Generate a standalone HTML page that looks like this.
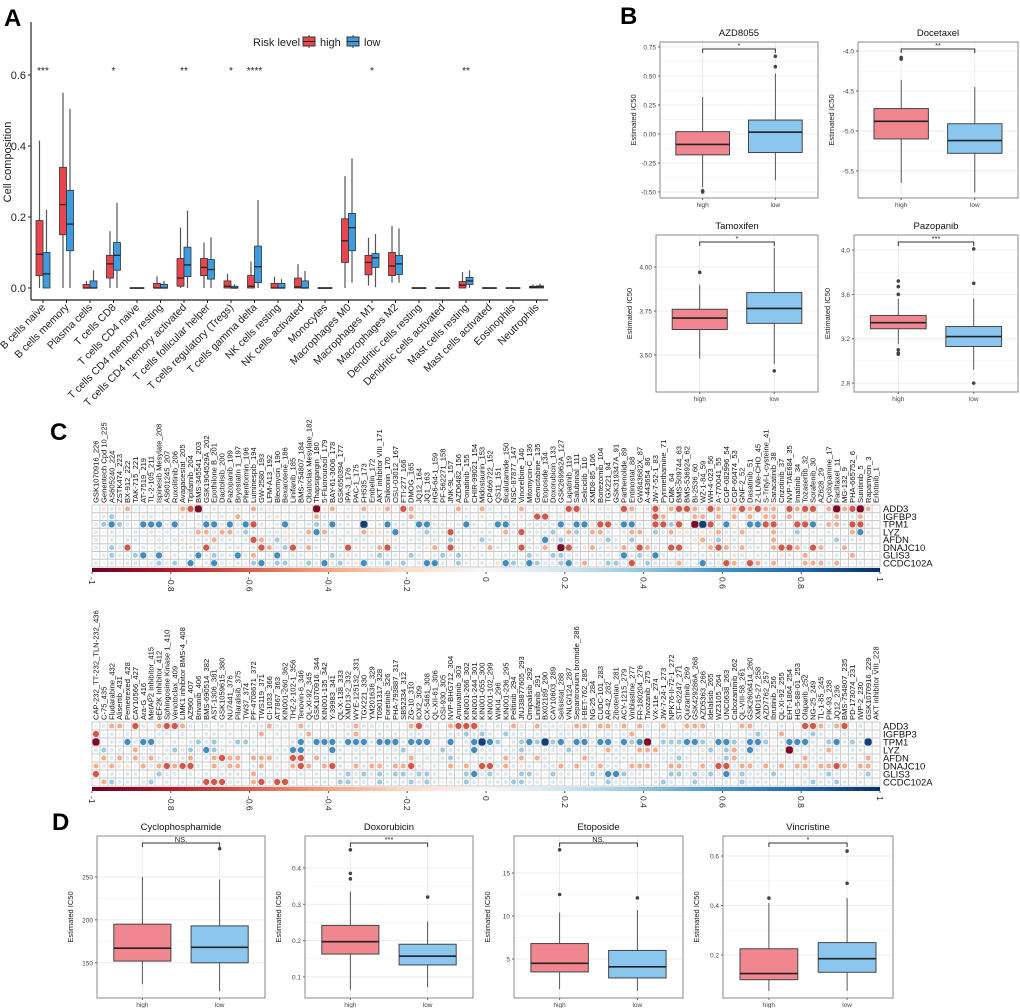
<!DOCTYPE html>
<html><head><meta charset="utf-8">
<style>
html,body{margin:0;padding:0;background:#fff;}
svg{display:block;font-family:"Liberation Sans",Arial,sans-serif;}
</style></head>
<body>
<svg id="fig" width="1020" height="1008" viewBox="0 0 1020 1008" xmlns="http://www.w3.org/2000/svg">
<defs>
<linearGradient id="cbar" x1="0" x2="1" y1="0" y2="0">
<stop offset="0" stop-color="#67001F"/><stop offset="0.1" stop-color="#B2182B"/><stop offset="0.2" stop-color="#D6604D"/><stop offset="0.3" stop-color="#F4A582"/><stop offset="0.4" stop-color="#FDDBC7"/><stop offset="0.5" stop-color="#F7F7F7"/><stop offset="0.6" stop-color="#D1E5F0"/><stop offset="0.7" stop-color="#92C5DE"/><stop offset="0.8" stop-color="#4393C3"/><stop offset="0.9" stop-color="#2166AC"/><stop offset="1" stop-color="#053061"/>
</linearGradient>
</defs>
<g id="gA"></g>
<g id="gB"></g>
<g id="gC"></g>
<g id="gD"></g>
</svg>
<script>
// ===== Panel A data =====
const cellTypes = ["B cells naive","B cells memory","Plasma cells","T cells CD8","T cells CD4 naive","T cells CD4 memory resting","T cells CD4 memory activated","T cells follicular helper","T cells regulatory (Tregs)","T cells gamma delta","NK cells resting","NK cells activated","Monocytes","Macrophages M0","Macrophages M1","Macrophages M2","Dendritic cells resting","Dendritic cells activated","Mast cells resting","Mast cells activated","Eosinophils","Neutrophils"];
// [min, q1, median, q3, max]
const highStats = [[0,.035,.095,.19,.415],[0,.15,.235,.34,.55],[0,0,0,.01,.02],[0,.028,.068,.092,.16],[0,0,0,.001,.001],[0,0,0,.013,.033],[0,.005,.028,.083,.17],[0,.035,.058,.083,.128],[0,0,.005,.02,.04],[0,0,.005,.035,.075],[0,0,0,.013,.032],[0,0,.003,.028,.067],[0,0,0,.001,.001],[0,.072,.133,.195,.315],[.007,.037,.072,.092,.142],[.015,.035,.062,.1,.175],[0,0,0,.001,.001],[0,0,0,.001,.001],[0,0,.008,.018,.045],[0,0,0,.001,.001],[0,0,0,.001,.001],[0,0,.002,.005,.01]];
const lowStats = [[0,0,.04,.1,.22],[0,.105,.18,.275,.505],[0,0,0,.02,.05],[0,.05,.092,.128,.24],[0,0,0,.001,.001],[0,0,0,.01,.02],[0,.032,.065,.115,.218],[0,.025,.052,.08,.143],[0,0,0,.005,.01],[0,.015,.06,.118,.248],[0,0,0,.013,.025],[0,0,0,.02,.048],[0,0,0,.001,.001],[.015,.105,.17,.21,.365],[.002,.058,.085,.097,.152],[.015,.038,.068,.092,.168],[0,0,0,.001,.001],[0,0,0,.001,.001],[0,.01,.02,.03,.05],[0,0,0,.001,.001],[0,0,0,.001,.001],[0,0,.003,.006,.012]];
const sigLabels = ["***","","","*","","","**","","*","****","","","","","*","","","","**","","",""];
const aTicks = [0,0.2,0.4,0.6];

// ===== Panel B/D data =====
const drugTitles = ["AZD8055","Docetaxel","Tamoxifen","Pazopanib","Cyclophosphamide","Doxorubicin","Etoposide","Vincristine"];
const drugHigh = [[-0.46,-0.18,-0.09,0.02,0.32],[-5.65,-5.1,-4.88,-4.72,-4.36],[3.48,3.645,3.71,3.76,3.9],[3.15,3.29,3.345,3.41,3.56],[125,152,167,195,250],[0.065,0.163,0.197,0.242,0.335],[1.5,3.5,4.5,6.8,10.4],[0.055,0.1,0.125,0.225,0.41]];
const drugLow = [[-0.4,-0.16,0.015,0.12,0.52],[-5.77,-5.28,-5.12,-4.91,-4.45],[3.45,3.68,3.765,3.855,4.11],[2.92,3.13,3.22,3.31,3.56],[117,150,168,193,247],[0.072,0.133,0.157,0.19,0.253],[1.3,2.8,4.1,6.0,10.7],[0.055,0.13,0.185,0.25,0.43]];
const drugOutHigh = [[-0.49,-0.5],[-4.08,-4.1],[3.97],[3.72,3.67,3.6,3.1,3.07,3.06],[],[0.37,0.385,0.45],[12.5,17.7],[0.43]];
const drugOutLow = [[0.58,0.67],[],[3.41],[3.7,4.01,2.8],[283],[0.32],[12.1],[0.49,0.62]];
const drugSig = ["*","**","*","***","NS.","***","NS.","*"];
const drugTicks = [[-0.5,-0.25,0,0.25,0.5,0.75],[-5.5,-5,-4.5,-4],[3.5,3.75,4],[2.8,3.2,3.6,4],[150,200,250],[0.1,0.2,0.3,0.4],[5,10,15],[0.2,0.4,0.6]];
const drugTickLabels = [["-0.50","-0.25","0.00","0.25","0.50","0.75"],["-5.5","-5.0","-4.5","-4.0"],["3.50","3.75","4.00"],["2.8","3.2","3.6","4.0"],["150","200","250"],["0.1","0.2","0.3","0.4"],["5","10","15"],["0.2","0.4","0.6"]];
const drugDomain = [[-0.552,0.793],[-5.84,-3.886],[3.29,4.182],[2.72,4.135],[109,297.7],[0.042,0.488],[0.47,19.3],[0.026,0.681]];

// ===== Panel C data =====
const genes = ["ADD3","IGFBP3","TPM1","LYZ","AFDN","DNAJC10","GLIS3","CCDC102A"];
const drugs1 = ["GSK1070916_226","Genentech Cpd 10_225","AS605240_224","ZSTK474_223","BX-912_222","TAK-715_221","AT-7519_219","TL-2-105_211","Ispinesib Mesylate_208","AS601245_207","Ruxolitinib_206","Avagacestat_205","Tipifarnib_204","BMS-345541_203","GSK1904529A_202","Epothilone B_201","Dactolisib_200","Pazopanib_199","Bryostatin 1_197","Phenformin_196","Luminespib_194","GW-2580_193","LFM-A13_192","Bleomycin_190","Bexarotene_186","Linifanib_185","BMS-754807_184","Obatoclax Mesylate_182","Thapsigargin_180","5-Fluorouracil_179","BAY-61-3606_178","GSK650394_177","IPA-3_176","PAC-1_175","FH535_173","Embelin_172","AKT inhibitor VIII_171","Shikonin_170","OSU-03012_167","FTI-277_166","DMOG_165","JQ12_164","JQ1_163","HG6-64-1_159","PF-562271_158","JNK-9L_157","AZD6482_156","Ponatinib_155","CHIR-99021_154","Midostaurin_153","CP466722_152","QS11_151","Bicalutamide_150","NSC-87877_147","Vinorelbine_140","Mitomycin-C_136","Gemcitabine_135","Etoposide_134","Doxorubicin_133","GSK269962A_127","Lapatinib_119","Salubrinal_111","Seliciclib_110","XMD8-85_106","Bortezomib_104","TGX221_94","GSK319347A_91","Parthenolide_89","Entinostat_88","GW843682X_87","A-443654_86","JW-7-52-1_83","Pyrimethamine_71","CMK_64","BMS-509744_63","BMS-536924_62","BI-2536_60","WZ-1-84_59","WH-4-023_56","A-770041_55","CGP-082996_54","CGP-60474_53","GNF-2_52","Dasatinib_51","Z-LLNle-CHO_45","S-Trityl-L-cysteine_41","Saracatinib_38","Crizotinib_37","NVP-TAE684_35","Imatinib_34","Tozasertib_32","Sorafenib_30","AZ628_29","Cyclopamine_17","Paclitaxel_11","MG-132_9","PHA-665752_6","Sunitinib_5","Rapamycin_3","Erlotinib_1"];
const drugs2 = ["CAP-232_TT-232_TLN-232_436","C-75_435","Fludarabine_432","Alisertib_431","Pemetrexed_428","CAY10566_427","Ara-G_416","MetAP2 Inhibitor_415","eEF2K Inhibitor_412","Sphingosine Kinase 1_410","Venotoclax_409","LIMK1 inhibitor BMS-4_408","AZ960_407","Brivanib_406","BMS-690514_382","AST-1306_381","GSK1059615_380","NU7441_376","Pilaralisib_375","TW37_374","PF-4708671_372","TWS119_371","CI-1033_366","AT7867_363","KIN001-260_362","THZ-2-102-1_356","Tenovin-6_346","QL-XI-92_345","GSK1070916_344","KIN001-135_342","Y-39983_341","QL-X-138_333","XMD13-2_332","WYE-125132_331","TGX221_330","YM201636_329","T0901317_328","Foretinib_326","PHA-793887_317","SB52334_312","ZG-10_310","IOX2_309","CX-5461_308","QL-XII-61_306","OSI-930_305","NVP-BHG712_304","Amuvatinib_303","KIN001-266_302","KIN001-244_301","KIN001-055_300","KIN001-102_299","WIKI4_296","KIN001-236_295","Pelitinib_294","JNJ38877605_293","Omipalisib_292","Linifanib_291","BX02189_290","CAY10603_289","Selisistat_288","VNLG/124_287","Sepantronium bromide_286","I-BET-762_285","NG-25_284","CUDC-101_283","AR-42_282","Zibotentan_281","ACY-1215_279","Vinblastine_277","FR-180204_276","Tivozanib_275","VX-11e_274","JW-7-24-1_273","NPK76-II-72-1_272","STF-62247_271","Quizartinib_269","GSK429286A_268","AZD5363_266","Idelalisib_265","WZ3105_264","UNC0638_263","Cabozantinib_262","QL-VIII-58_261","GSK2606414_260","XMD15-27_258","AZD7762_257","Ibrutinib_256","QL-XI-92_255","EHT-1864_254","HG-5-88-01_253","Olaparib_252","NG-25_249","TL-1-85_245","PIK-93_238","JQ12_236","BMS-754807_235","PD-173074_231","IWP-2_230","GSK1070916_229","AKT inhibitor VIII_228"];
// correlation code strings: X=-0.75 R=-0.5 r=-0.3 o=-0.12 .=0.04 c=0.12 b=0.3 B=0.5 Z=0.75
const corrCodes1 = [
".ocor....o.rRX.o..o.rco....oXor.o.roor.Rro....rc.rc...r.o...RRo.co.Rr.oR.rRRroRr.rRrRrr.RrRR.rXrRXr",
".cb.c.cc...o.cc.c.r.c.co..c.rc..o.c.....r..o...c.o..c.o.RR.c..c..c..o..Rr...rr.r.r.r.rr.r.o.c.r.cr",
"cbBbc.BBBcBc.cBBcBcBRc.cBc.cbcBcc.Z.cBcc.BBcc.cBc.cBBc.ccccBcBBoRRcBBc.RRbR.XZRcBo.BBRRc.RRBcrrcRRc",
"c.c..c.c.c.ccrrcrrcbc.ccoocrBrc.c.roocBc.cbccRc.occ.rcRcccb.rbcrrc.crr.bcroocoorccr.c.rc.b.c.c..rBc",
"o.c.cc..c.cooccrcc.cRrcbcocccc.c.cc..oo.cc.c.bc..bc.c..c.Bcbcc..cbc.b.c..c..orcboc.c..r.cc..c.bcco",
"c.bcR.c.cc.cccRc.cc.cRrcbRcrc.ccRoocrRcc.cor.Ro.o.rc..Rccr.XRcorcocrcRrc.RRo.orRrcrcc.rRRrcRr.cr.c",
".cbccbBcB.c.cBcbccBcr.cB.cc.c.bcoc.cbcc.bc.cbcbc.c..cc.bc.bbcc.ccc.BcbcBc.ccccoc.oc.cc.oc.r.c.c.r.",
"c.c.cc.cbcb.B.cBc.c.bBcbb.cbcBcbcoBccbcb.cBBc.bc.c.oBbcBbccbBcr.cbbcRcbcccrc.BcoRrcRrcr.c.rrrcr..c"];
const corrCodes2 = [
".crr.Rc.rRRrc.c.c..cccrcc.rc..c.orcc.c..rRc..rRRRc.c.ro.rcccorr.rrcr.rc.r..rrr.c..rr.c.c..RRrcrR.c.",
"R.c.c...cc.c..cc.c...r.c..cr....cr..c.c.cc.c.ccbcbc.bcc.cc.cc.c..c.cr.c.c.ccc.c.c..cbc.r..cbc..c.c.",
"X.c.BcBBc.c.cbcb.cbbc.c..cBcBBBcBBBcBBBcBBB..B.cBZBb.cbBbZbBcBBcBBcBbBX.bbbBBbcBBbcBBb.cBBBc.bBcbcZ",
"cbcc.r.c.cbcbcBbc...c..ccBBcc.Bc.cc.c.cb.c.cbcccBcc.ccbc.cccbccc.rcc.rrrccc.ccbcbrcBccocXc.ccrc.cc.",
".rcrcrcrcc.cr.crRrr.rrrc.RR.rc.c.c.c.cc.r.c.cbc..cc.rcr.rc.c..rc.cccc.c.ccbc.cocbrc.c.c.c.rcc.c.c.r",
"roroo.rcrRrRRc.rcrr.cr.o.rRr.rRc.rcrrcrrRc.c.ror.RRcrcoc.ccrcrccrcc.rrrc.rrc.rcRRcrrcrcrcrrcrrRr.rr",
"R.c.cc..bcc.c.c.ccc.rc.c..c.c..cbcbcbcbbcbbc.c.bBcbcc.bbc.bcc.cbcBBbcc.c.bbcbcbcBcbcccbc.cc.cbc..cb",
".rbcc.cb.c.c.cRRRcc.rRcRRc..cc.bbcc.bcccbcbc.ccbc.cccbbcc.cc..cc.bcccc.cbc..bcc.c.bccc.c..cbccbc.c."];
const codeValues = {"X":-0.75,"R":-0.5,"r":-0.3,"o":-0.12,".":0.04,"c":0.12,"b":0.3,"B":0.5,"Z":0.75};
const cbarTicks = [-1,-0.8,-0.6,-0.4,-0.2,0,0.2,0.4,0.6,0.8,1];
const cbarTickLabels = ["-1","-0.8","-0.6","-0.4","-0.2","0","0.2","0.4","0.6","0.8","1"];

const NS = "http://www.w3.org/2000/svg";
function el(parent, tag, attrs, text){
  const e = document.createElementNS(NS, tag);
  for (const k in attrs) e.setAttribute(k, attrs[k]);
  if (text !== undefined) e.textContent = text;
  parent.appendChild(e);
  return e;
}

// ---------- Panel A ----------
(function(){
  const g = document.getElementById('gA');
  const y0px = 288, pxPerUnit = 355;
  const yA = v => y0px - v*pxPerUnit;
  const xA = i => 43 + i*23.5;
  const t = el(g,'text',{x:4,y:26,'font-size':24,'font-weight':'bold'},'A');
   
  const yl = el(g,'line',{x1:31,y1:22,x2:31,y2:300,stroke:'#222','stroke-width':1.2});
   
  const xl = el(g,'line',{x1:31,y1:300,x2:548,y2:300,stroke:'#222','stroke-width':1.2});
   
  aTicks.forEach(v=>{
    const y = yA(v);
    el(g,'line',{x1:28,y1:y,x2:31,y2:y,stroke:'#222'});
    const tl = el(g,'text',{x:26,y:y+4,'font-size':11,'text-anchor':'end',fill:'#222'},v.toFixed(1));
     
  });
  const yt = el(g,'text',{x:0,y:0,'font-size':11,'text-anchor':'middle',transform:'translate(11,162) rotate(-90)',fill:'#222'},'Cell composition');
   
  const lg = el(g,'g',{});
   
  el(lg,'text',{x:253,y:46,'font-size':11,fill:'#222'},'Risk level');
  [['high','#E8464E',303],['low','#3D9BE0',347]].forEach(([lab,col,x])=>{
    const le = el(lg,'g',{});
     
    el(le,'line',{x1:x+6,y1:35,x2:x+6,y2:48,stroke:'#333'});
    el(le,'rect',{x:x,y:37,width:12,height:9,fill:col,stroke:'#333'});
    el(le,'line',{x1:x,y1:41.5,x2:x+12,y2:41.5,stroke:'#222'});
    el(le,'text',{x:x+17,y:46,'font-size':11,fill:'#222'},lab);
  });
  cellTypes.forEach((name,i)=>{
    const c = xA(i);
    el(g,'line',{x1:c,y1:300,x2:c,y2:303,stroke:'#222'});
    const lt = el(g,'text',{x:0,y:0,'font-size':10.5,'text-anchor':'end',fill:'#222',transform:`translate(${c+3},${308}) rotate(-45)`},name);
     
    [[highStats[i],'#E8464E',c-7],[lowStats[i],'#3D9BE0',c]].forEach(([s,col,x],k)=>{
      const bg = el(g,'g',{});
       
      el(bg,'line',{x1:x+3.5,y1:yA(s[0]),x2:x+3.5,y2:yA(s[4]),stroke:'#555','stroke-width':1.2});
      el(bg,'rect',{x:x,y:yA(s[3]),width:7,height:Math.max(0.8,yA(s[1])-yA(s[3])),fill:col,stroke:'#333','stroke-width':0.8});
      el(bg,'line',{x1:x,y1:yA(s[2]),x2:x+7,y2:yA(s[2]),stroke:'#222','stroke-width':1.3});
    });
    if (sigLabels[i]){
      const st = el(g,'text',{x:c,y:74,'font-size':10,'text-anchor':'middle',fill:'#222'},sigLabels[i]);
       
    }
  });
})();

// ---------- Box panels (B, D) ----------
function boxPanel(g, idx, x0, y0, x1, y1, tfs){
  const [dmin,dmax] = drugDomain[idx];
  const y = v => y1 - (v-dmin)/(dmax-dmin)*(y1-y0);
  const w = x1-x0;
  const cx = [x0+0.27*w, x0+0.73*w];
  const bw = 0.34*w;
  const pg = el(g,'g',{});
   
  el(pg,'rect',{x:x0,y:y0,width:w,height:y1-y0,fill:'#fff'});
  const tk = drugTicks[idx];
  for (let i=0;i<tk.length;i++){
    el(pg,'line',{x1:x0,y1:y(tk[i]),x2:x1,y2:y(tk[i]),stroke:'#e6e6e6','stroke-width':0.8});
    if (i+1<tk.length){ const m=(tk[i]+tk[i+1])/2; el(pg,'line',{x1:x0,y1:y(m),x2:x1,y2:y(m),stroke:'#f2f2f2','stroke-width':0.6}); }
  }
  cx.forEach(c=>el(pg,'line',{x1:c,y1:y0,x2:c,y2:y1,stroke:'#e6e6e6','stroke-width':0.8}));
  const stats = [drugHigh[idx], drugLow[idx]];
  const outs = [drugOutHigh[idx], drugOutLow[idx]];
  const cols = ['#F0868F','#8BC6EE'];
  stats.forEach((s,k)=>{
    const c = cx[k];
    const bg = el(pg,'g',{});
     
    el(bg,'line',{x1:c,y1:y(s[0]),x2:c,y2:y(s[4]),stroke:'#444','stroke-width':0.9});
    el(bg,'rect',{x:c-bw/2,y:y(s[3]),width:bw,height:y(s[1])-y(s[3]),fill:cols[k],stroke:'#444','stroke-width':1});
    el(bg,'line',{x1:c-bw/2,y1:y(s[2]),x2:c+bw/2,y2:y(s[2]),stroke:'#222','stroke-width':1.6});
    outs[k].forEach(v=>{ el(bg,'circle',{cx:c,cy:y(v),r:1.8,fill:'#444'}); });
  });
  el(pg,'rect',{x:x0,y:y0,width:w,height:y1-y0,fill:'none',stroke:'#888','stroke-width':1});
  tk.forEach((v,i)=>{
    el(pg,'line',{x1:x0-2,y1:y(v),x2:x0,y2:y(v),stroke:'#666'});
    const tl = el(pg,'text',{x:x0-4,y:y(v)+2.5,'font-size':tfs,'text-anchor':'end',fill:'#444'},drugTickLabels[idx][i]);
     
  });
  ['high','low'].forEach((lab,k)=>{
    el(pg,'line',{x1:cx[k],y1:y1,x2:cx[k],y2:y1+2,stroke:'#666'});
    const xt = el(pg,'text',{x:cx[k],y:y1+9,'font-size':tfs,'text-anchor':'middle',fill:'#444'},lab);
     
  });
  const tt = el(pg,'text',{x:(x0+x1)/2,y:y0-6,'font-size':tfs+3,'text-anchor':'middle',fill:'#111'},drugTitles[idx]);
   
  const ya = el(pg,'text',{x:0,y:0,'font-size':tfs+1,'text-anchor':'middle',fill:'#222',transform:`translate(${x0-24},${(y0+y1)/2}) rotate(-90)`},'Estimated IC50');
   
  const by = y0+7;
  const br = el(pg,'path',{d:`M${cx[0]},${by+4}V${by}H${cx[1]}V${by+4}`,fill:'none',stroke:'#333','stroke-width':1});
   
  const sl = el(pg,'text',{x:(cx[0]+cx[1])/2,y:by-1,'font-size':tfs+1,'text-anchor':'middle',fill:'#222'},drugSig[idx]);
   
}
(function(){
  const g = document.getElementById('gB');
  const t = el(g,'text',{x:620,y:24,'font-size':24,'font-weight':'bold'},'B');
   
  boxPanel(g,0,660,42,818,198,6.5);
  boxPanel(g,1,858,42,1018,198,6.5);
  boxPanel(g,2,656,235,818,392,6.5);
  boxPanel(g,3,854,235,1018,392,6.5);
  const gd = document.getElementById('gD');
  const td = el(gd,'text',{x:52,y:830,'font-size':24,'font-weight':'bold'},'D');
   
  boxPanel(gd,4,97,836,265,998,6.5);
  boxPanel(gd,5,305,836,473,998,6.5);
  boxPanel(gd,6,514,836,683,998,6.5);
  boxPanel(gd,7,723,836,893,998,6.5);
})();

// ---------- Panel C ----------
function corrColor(v){
  const stops = [[-1,[103,0,31]],[-0.8,[178,24,43]],[-0.6,[214,96,77]],[-0.4,[244,165,130]],[-0.2,[253,219,199]],[0,[247,247,247]],[0.2,[209,229,240]],[0.4,[146,197,222]],[0.6,[67,147,195]],[0.8,[33,102,172]],[1,[5,48,97]]];
  for (let i=0;i<stops.length-1;i++){
    const [a,ca]=stops[i],[b,cb]=stops[i+1];
    if (v>=a && v<=b){ const t=(v-a)/(b-a); return 'rgb('+ca.map((x,j)=>Math.round(x+(cb[j]-x)*t)).join(',')+')'; }
  }
  return '#f7f7f7';
}
function corrGrid(g, codes, labels, x0, y0, x1, y1, name){
  const n = labels.length;
  const cw = (x1-x0)/n, ch = (y1-y0)/genes.length;
  const gg = el(g,'g',{});
   
  el(gg,'rect',{x:x0,y:y0,width:x1-x0,height:y1-y0,fill:'#fff'});
  labels.forEach((lab,j)=>{
    const cx = x0+(j+0.5)*cw;
    const lt = el(gg,'text',{x:0,y:0,'font-size':7.6,fill:'#111',transform:`translate(${cx+2.6},${y0-2}) rotate(-90)`},lab);
     
  });
  genes.forEach((gn,i)=>{
    const row = codes[i];
    for (let j=0;j<n;j++){
      const ch0 = row[j] || '.';
      const v = codeValues[ch0] !== undefined ? codeValues[ch0] : 0.04;
      const cx = x0+(j+0.5)*cw, cy = y0+(i+0.5)*ch;
      const cell = el(gg,'circle',{cx:cx,cy:cy,r:(1.6+Math.abs(v)*3.0).toFixed(2),fill:corrColor(v*1.25)});
       
    }
    const gl = el(gg,'text',{x:x1+3,y:y0+(i+0.5)*ch+3.3,'font-size':9.5,fill:'#111'},gn);
     
  });
  for (let j=0;j<=n;j++) el(gg,'line',{x1:x0+j*cw,y1:y0,x2:x0+j*cw,y2:y1,stroke:'#c8c8c8','stroke-width':0.9});
  for (let i=0;i<=genes.length;i++) el(gg,'line',{x1:x0,y1:y0+i*ch,x2:x1,y2:y0+i*ch,stroke:'#c8c8c8','stroke-width':0.9});
  const cb = el(gg,'rect',{x:x0,y:y1+1,width:x1-x0,height:4,fill:'url(#cbar)'});
   
  cbarTicks.forEach((v,k)=>{
    const x = x0+(v+1)/2*(x1-x0);
    el(gg,'line',{x1:x,y1:y1+5,x2:x,y2:y1+7,stroke:'#555'});
    const tl = el(gg,'text',{x:0,y:0,'font-size':8.5,fill:'#222',transform:`translate(${x-3},${y1+10}) rotate(90)`},cbarTickLabels[k]);
     
  });
}
(function(){
  const g = document.getElementById('gC');
  const t = el(g,'text',{x:50,y:440,'font-size':24,'font-weight':'bold'},'C');
   
  corrGrid(g, corrCodes1, drugs1, 92, 505, 880, 567, 'correlation-grid-1');
  corrGrid(g, corrCodes2, drugs2, 92, 722, 880, 786, 'correlation-grid-2');
})();
</script>
</body></html>
